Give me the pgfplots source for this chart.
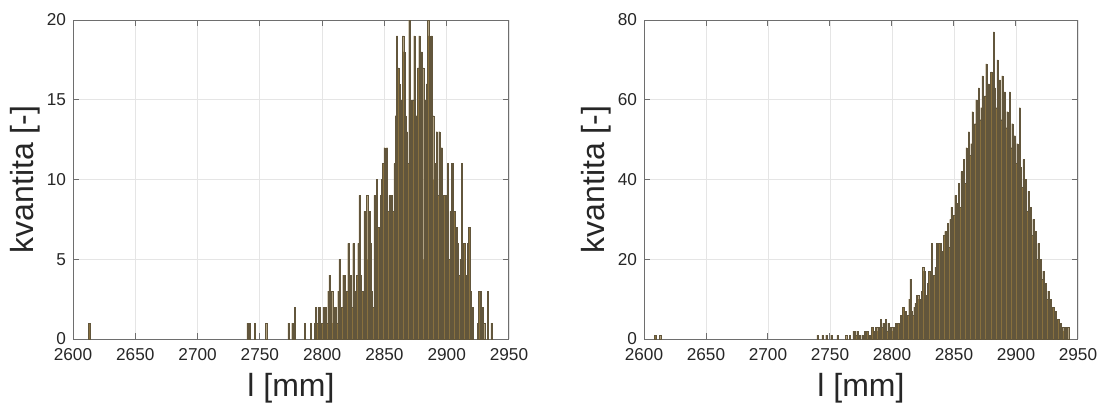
\documentclass[border=0pt]{standalone}
\usepackage{pgfplots}
\pgfplotsset{compat=1.18}
\usepackage{pgfplotstable}
\usepackage{fontspec}
\setmainfont{Liberation Sans}
\definecolor{barfill}{RGB}{136,112,62}
\definecolor{baredge}{RGB}{98,86,60}
\definecolor{axgray}{RGB}{110,110,110}
\definecolor{txtgray}{RGB}{38,38,38}

\pgfplotstableread{
x y
2613 1
2740 1
2741 1
2742 1
2746 1
2755 1
2773 1
2776 1
2778 2
2786 1
2791 1
2794 1
2795 2
2796 1
2797 2
2798 2
2799 1
2800 1
2801 2
2802 1
2803 2
2804 1
2805 3
2806 4
2807 1
2808 3
2809 1
2810 2
2811 2
2812 1
2813 3
2814 5
2815 2
2816 2
2817 4
2818 4
2819 2
2820 3
2821 6
2822 2
2823 4
2824 2
2825 6
2826 3
2827 1
2828 4
2829 6
2830 9
2831 4
2832 3
2833 3
2834 8
2835 4
2836 9
2837 5
2838 8
2839 6
2840 3
2841 2
2842 9
2843 7
2844 10
2845 7
2846 5
2847 9
2848 10
2849 11
2850 12
2851 9
2852 12
2853 8
2854 9
2855 8
2856 9
2857 8
2858 11
2859 14
2860 19
2861 17
2862 16
2863 12
2864 15
2865 19
2866 18
2867 14
2868 13
2869 11
2870 20
2871 15
2872 11
2873 15
2874 19
2875 13
2876 14
2877 17
2878 19
2879 16
2880 18
2881 17
2882 5
2883 15
2884 16
2885 20
2886 19
2887 12
2888 19
2889 14
2890 10
2891 11
2892 13
2893 9
2894 13
2895 10
2896 12
2897 7
2898 9
2899 6
2900 9
2901 11
2902 5
2903 8
2904 11
2905 11
2906 8
2907 6
2908 7
2909 6
2910 4
2911 5
2912 11
2913 6
2914 6
2915 3
2916 4
2917 6
2918 7
2919 3
2920 2
2921 2
2925 1
2926 3
2927 3
2928 2
2929 2
2930 1
2933 3
2936 1
}\lefttab

\pgfplotstableread{
x y
2609 1
2613 1
2740 1
2744 1
2747 1
2751 1
2756 1
2763 1
2766 1
2769 2
2770 2
2771 1
2772 2
2774 1
2776 1
2778 2
2779 2
2780 2
2781 1
2782 1
2784 3
2785 2
2786 1
2787 3
2788 3
2789 2
2790 3
2791 5
2792 3
2793 4
2794 3
2795 5
2796 2
2797 4
2798 3
2799 3
2800 3
2801 2
2802 3
2803 4
2804 3
2805 4
2806 4
2807 6
2808 5
2809 8
2810 7
2811 7
2812 5
2813 6
2814 10
2815 15
2816 7
2817 6
2818 8
2819 9
2820 11
2821 11
2822 10
2823 9
2824 12
2825 18
2826 17
2827 9
2828 11
2829 14
2830 17
2831 15
2832 24
2833 16
2834 16
2835 18
2836 24
2837 16
2838 24
2839 24
2840 20
2841 22
2842 26
2843 27
2844 24
2845 29
2846 23
2847 30
2848 33
2849 27
2850 31
2851 36
2852 29
2853 34
2854 39
2855 33
2856 42
2857 36
2858 45
2859 39
2860 48
2861 44
2862 52
2863 46
2864 49
2865 57
2866 50
2867 54
2868 60
2869 52
2870 63
2871 55
2872 58
2873 66
2874 57
2875 61
2876 69
2877 59
2878 64
2879 56
2880 67
2881 60
2882 77
2883 63
2884 58
2885 70
2886 61
2887 65
2888 55
2889 66
2890 59
2891 62
2892 53
2893 57
2894 51
2895 62
2896 48
2897 54
2898 46
2899 51
2900 44
2901 49
2902 41
2903 58
2904 43
2905 38
2906 45
2907 35
2908 40
2909 32
2910 37
2911 29
2912 33
2913 26
2914 30
2915 23
2916 27
2917 20
2918 24
2919 17
2920 20
2921 15
2922 17
2923 12
2924 14
2925 10
2926 12
2927 8
2928 10
2929 7
2930 8
2931 5
2932 7
2933 4
2934 5
2935 3
2936 4
2937 2
2938 3
2939 2
2940 3
2941 2
2942 3
}\righttab

\pgfplotsset{
  histax/.style={
    scale only axis,
    xmin=2600, xmax=2950,
    ymin=0,
    xtick={2600,2650,...,2950},
    grid=major,
    major grid style={draw=black!10, line width=0.4pt},
    axis line style={draw=axgray, line width=0.5pt},
    tick style={draw=axgray, line width=0.5pt},
    tick align=inside,
    major tick length=3pt,
    /pgf/number format/assume math mode=true,
    /pgf/number format/1000 sep={},
    ticklabel style={font=\fontsize{8.6}{10}\selectfont, text=txtgray},
    xticklabel style={yshift=-1pt},
    label style={font=\fontsize{16}{18}\selectfont, text=txtgray},
    xlabel={l [mm]},
    ylabel={kvantita [-]},
    xlabel style={at={(axis description cs:0.5,-0.155)}, anchor=center},
    ylabel style={at={(axis description cs:-0.11,0.5)}, anchor=center},
  },
  histbar/.style={
    ybar, bar width=1, bar shift=0,
    fill=barfill, draw=baredge, line width=0.1pt,
  },
}

\begin{document}
\begin{tikzpicture}
\path[use as bounding box] (0,0) rectangle (550pt,204pt);
\begin{axis}[histax, width=218pt, height=159.5pt, at={(36.5pt,34.5pt)}, anchor=south west,
  ymax=20, ytick={0,5,...,20}]
\addplot[histbar] table[x=x,y=y] {\lefttab};
\end{axis}
\begin{axis}[histax, width=217pt, height=159.5pt, at={(322pt,34.5pt)}, anchor=south west,
  ymax=80, ytick={0,20,...,80}]
\addplot[histbar] table[x=x,y=y] {\righttab};
\end{axis}
\end{tikzpicture}
\end{document}
